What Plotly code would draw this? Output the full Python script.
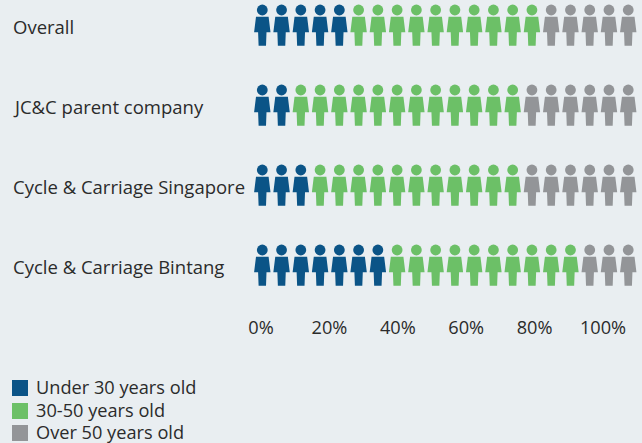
import plotly.graph_objects as go

categories = ["Overall", "JC&C parent company", "Cycle & Carriage Singapore", "Cycle & Carriage Bintang"]
group_names = ["Under 30 years old", "30-50 years old", "Over 50 years old"]
under_30 = [5, 2, 3, 7]
from_30_to_50 = [10, 12, 11, 10]
over_50 = [5, 6, 6, 3]
percent_ticks = [0, 20, 40, 60, 80, 100]

COLORS = ["#0b5487", "#6cc067", "#939598"]
INK = "#2b2b2b"
FONT = "Open Sans"
SIZE = 18.2
LABEL_SIZE = 18.5
W, H = 642, 443
STEP_X, STEP_Y = 19.26, 80.0     # pixels per person column / per row
FIRST_X, FIRST_Y = 262.3, 10.0   # centre of the first head
PCT_PX = 3.42                    # pixels per percentage point on the printed scale
ZERO_PX = 261.0
KEY_CENTRES = [388, 411, 433]    # vertical centres of the legend rows, in pixels

# Body outline relative to the head centre, in pixels
BODY = [(-6.3, 6.7), (6.3, 6.7), (8.2, 22.3), (4.2, 22.3), (3.7, 35.7),
        (-3.7, 35.7), (-4.2, 22.3), (-8.2, 22.3), (-6.3, 6.7)]

fig = go.Figure()

for g, counts in enumerate([under_30, from_30_to_50, over_50]):
    xs, ys, hx, hy = [], [], [], []
    for row, n in enumerate(counts):
        start = sum(c[row] for c in [under_30, from_30_to_50, over_50][:g])
        for col in range(start, start + n):
            hx.append(col)
            hy.append(row)
            xs += [col + dx / STEP_X for dx, _ in BODY] + [None]
            ys += [row + dy / STEP_Y for _, dy in BODY] + [None]
    fig.add_trace(go.Scatter(x=xs, y=ys, mode="lines", fill="toself", fillcolor=COLORS[g],
                             line=dict(width=0, color=COLORS[g]), showlegend=False, hoverinfo="skip"))
    fig.add_trace(go.Scatter(x=hx, y=hy, mode="markers", showlegend=False, hoverinfo="skip",
                             marker=dict(symbol="circle", size=10.8, color=COLORS[g], line=dict(width=0))))

# Invisible trace that activates the percentage axis
fig.add_trace(go.Scatter(x=percent_ticks, y=[0] * len(percent_ticks), xaxis="x2", mode="markers",
                         marker=dict(opacity=0), showlegend=False, hoverinfo="skip"))

for row, name in enumerate(categories):
    fig.add_annotation(x=11 / W, xref="paper", y=row + 16.5 / STEP_Y, yref="y", text=name,
                       showarrow=False, xanchor="left", yanchor="middle",
                       font=dict(family=FONT, size=LABEL_SIZE, color=INK))

# Legend rows: coloured square plus label
for name, color, cy in zip(group_names, COLORS, KEY_CENTRES):
    fig.add_shape(type="rect", xref="paper", yref="paper", x0=12 / W, x1=28 / W,
                  y0=1 - (cy + 8) / H, y1=1 - (cy - 8) / H,
                  fillcolor=color, line=dict(width=0))
    fig.add_annotation(x=34 / W, xref="paper", y=1 - (cy - 1) / H, yref="paper", text=name,
                       showarrow=False, xanchor="left", yanchor="middle",
                       font=dict(family=FONT, size=SIZE, color=INK))

fig.update_layout(
    width=W, height=H, margin=dict(l=0, r=0, t=0, b=0), showlegend=False,
    paper_bgcolor="#e9eef1", plot_bgcolor="#e9eef1",
    font=dict(family=FONT, size=SIZE, color=INK),
    xaxis=dict(range=[-FIRST_X / STEP_X, (W - FIRST_X) / STEP_X], visible=False, fixedrange=True),
    yaxis=dict(range=[(H - FIRST_Y) / STEP_Y, -FIRST_Y / STEP_Y], visible=False, fixedrange=True),
    xaxis2=dict(range=[-ZERO_PX / PCT_PX, (W - ZERO_PX) / PCT_PX], overlaying="x", anchor="free",
                position=1 - 315 / H, side="bottom", tickmode="array", tickvals=percent_ticks,
                ticktext=[f"{v}%" for v in percent_ticks], showgrid=False, zeroline=False,
                showline=False, ticks="", fixedrange=True),
)

fig.write_html("out.html", config={"displayModeBar": False})
